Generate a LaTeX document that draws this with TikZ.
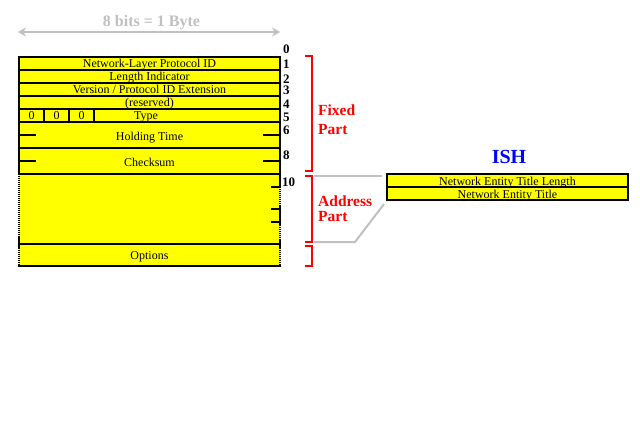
\documentclass[tikz,border=0pt]{standalone}
\usepackage{fontspec}
\setmainfont{Liberation Serif}
\usetikzlibrary{arrows.meta}
\definecolor{pyel}{RGB}{255,255,0}
\definecolor{lgray}{RGB}{192,192,192}
\definecolor{pred}{RGB}{255,0,0}
\definecolor{pblue}{RGB}{0,0,255}
\tikzset{
  frame/.style={line width=2pt,black},
  dots/.style={line width=2pt,black,dash pattern=on 1pt off 1pt},
  rowtxt/.style={inner sep=0pt,anchor=base,font=\fontsize{12}{12}\selectfont},
  num/.style={inner sep=0pt,anchor=base west,font=\fontsize{13}{13}\selectfont\bfseries},
  brk/.style={line width=2pt,pred},
  part/.style={inner sep=0pt,anchor=base west,text=pred,font=\fontsize{15.5}{15.5}\selectfont\bfseries},
  link/.style={line width=2pt,lgray},
}
\begin{document}
\begin{tikzpicture}[x=1pt,y=-1pt]
\useasboundingbox (0,0) rectangle (640,442);
\fill[white] (0,0) rectangle (640,442);
% byte arrow
\node[inner sep=0pt,anchor=base,text=lgray,font=\fontsize{16}{16}\selectfont\bfseries] (byte) at (151.5,26.5) {8 bits = 1 Byte};
\coordinate (ba) at (18,32);
\coordinate (bb) at (280,32);
\draw[line width=2pt,lgray,{Stealth[length=8pt,width=9pt]}-{Stealth[length=8pt,width=9pt]}] (ba) -- (bb);
% main frame
\fill[pyel] (19,57) rectangle (280,266);
\draw[frame] (19,57) rectangle (280,174);
\foreach \yy in {70,83,96,109,122,148} \draw[frame] (19,\yy) -- (280,\yy);
\foreach \xx in {44,69,94} \draw[frame] (\xx,109) -- (\xx,122);
\foreach \yy in {135,161} {\draw[frame] (19,\yy) -- (36,\yy); \draw[frame] (263,\yy) -- (280,\yy);}
% address part sides
\draw[dots] (19,174) -- (19,238);
\draw[frame] (19,237) -- (19,248);
\draw[frame] (280,173) -- (280,187);
\draw[dots] (280,187) -- (280,206);
\draw[frame] (280,205) -- (280,225);
\draw[dots] (280,225) -- (280,241);
\draw[frame] (280,240) -- (280,248);
\foreach \yy in {187,209,222} \draw[frame] (271,\yy) -- (280,\yy);
% options
\draw[frame] (19,244) -- (280,244);
\draw[dots] (19,248) -- (19,265);
\draw[dots] (280,248) -- (280,265);
\draw[frame] (18,266) -- (281,266);
% texts
\node[rowtxt] (nlpid) at (149.5,67.7) {Network-Layer Protocol ID};
\node[rowtxt] (li) at (149.5,80.7) {Length Indicator};
\node[rowtxt] (ver) at (149.5,93.7) {Version / Protocol ID Extension};
\node[rowtxt] (res) at (149.5,106.7) {(reserved)};
\node[rowtxt] (b1) at (31.5,119.7) {0};
\node[rowtxt] (b2) at (56.5,119.7) {0};
\node[rowtxt] (b3) at (81.5,119.7) {0};
\node[rowtxt] (type) at (146,119.7) {Type};
\node[rowtxt] (ht) at (149.5,140) {Holding Time};
\node[rowtxt] (cs) at (149.5,166) {Checksum};
\node[rowtxt] (opt) at (149.5,259.3) {Options};
% numbers
\node[num] (n0) at (283,53) {0};
\node[num] (n1) at (283,68) {1};
\node[num] (n2) at (283,83) {2};
\node[num] (n3) at (283,94.7) {3};
\node[num] (n4) at (283,108) {4};
\node[num] (n5) at (283,121.3) {5};
\node[num] (n6) at (283,134) {6};
\node[num] (n8) at (283,159.7) {8};
\node[num] (n10) at (282,186) {10};
% brackets
\draw[brk] (305,56) -- (312,56) -- (312,171) -- (305,171);
\draw[brk] (305,176) -- (312,176) -- (312,242) -- (305,242);
\draw[brk] (305,246) -- (312,246) -- (312,266) -- (305,266);
\node[part] (fx1) at (318,115) {Fixed};
\node[part] (fx2) at (318,134.5) {Part};
\node[part] (ad1) at (318,206) {Address};
\node[part] (ad2) at (318,221.5) {Part};
% ISH
\node[inner sep=0pt,anchor=base,text=pblue,font=\fontsize{20}{20}\selectfont\bfseries] (ish) at (509,163.3) {ISH};
\fill[pyel] (387,174) rectangle (628,200);
\draw[frame] (387,174) rectangle (628,200);
\draw[frame] (387,187) -- (628,187);
\node[rowtxt] (netl) at (507.5,185.5) {Network Entity Title Length};
\node[rowtxt] (net) at (507.5,198.3) {Network Entity Title};
% links
\coordinate (la) at (314,176);
\coordinate (lb) at (382,176);
\coordinate (lc) at (314,242);
\coordinate (ld) at (355,242);
\coordinate (le) at (384,204);
\draw[link] (la) -- (lb);
\draw[link] (lc) -- (ld) -- (le);
\end{tikzpicture}
\end{document}
